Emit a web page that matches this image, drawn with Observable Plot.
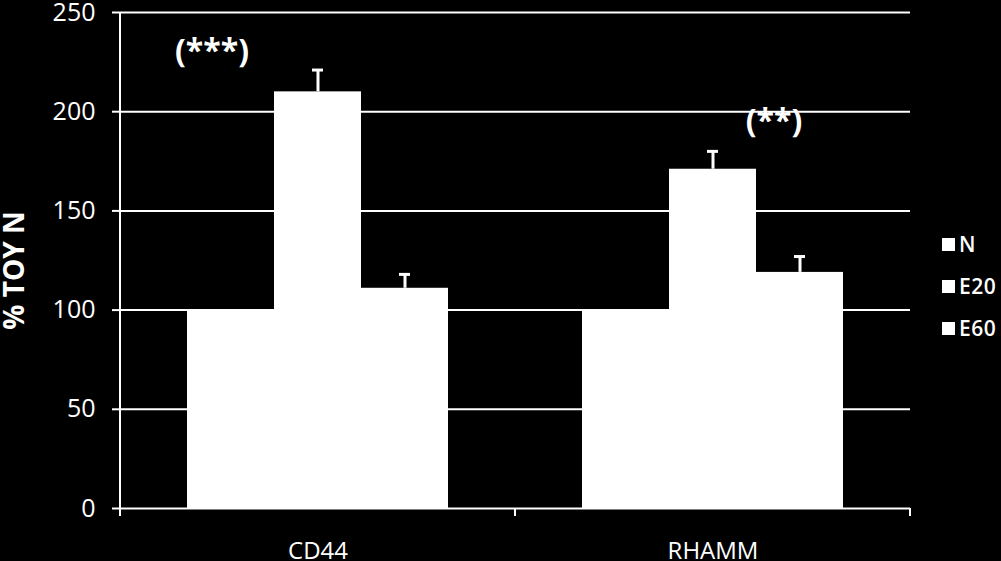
<!DOCTYPE html>
<html><head><meta charset="utf-8">
<script src="https://cdn.jsdelivr.net/npm/d3@7"></script>
<script src="https://cdn.jsdelivr.net/npm/@observablehq/plot@0.6"></script>
<style>
html,body{margin:0;padding:0;background:#000;}
#wrap{position:relative;width:1001px;height:561px;background:#000;overflow:hidden;}
#legend{position:absolute;left:942px;top:223px;font-family:"Open Sans",sans-serif;font-size:21px;font-weight:600;color:#fff;letter-spacing:0.5px;}
#legend .item{display:flex;align-items:center;height:42px;}
#legend .sw{width:13px;height:13px;background:#fff;margin-right:4px;flex:none;}
</style></head>
<body><div id="wrap"></div>
<script>
const groups = ["CD44", "RHAMM"];
const series = ["N", "E20", "E60"];
const cd44Values = [100, 210, 111];
const cd44Errors = [0, 11, 7];
const rhammValues = [100, 171, 119];
const rhammErrors = [0, 9, 8];
const yTicks = [0, 50, 100, 150, 200, 250];
const yTitle = "% TOY N";
const sigLabels = ["(***)", "(**)"];
const sigGroups = ["CD44", "RHAMM"];
const sigSeries = ["N", "E60"];
const sigLevels = [230, 195];

const valuesByGroup = {CD44: cd44Values, RHAMM: rhammValues};
const errorsByGroup = {CD44: cd44Errors, RHAMM: rhammErrors};
const data = [];
for (const g of groups) series.forEach((s, i) => data.push({group: g, series: s, value: valuesByGroup[g][i], error: errorsByGroup[g][i]}));
const errData = data.filter(d => d.error > 0);
const sig = sigLabels.map((t, i) => ({label: t, group: sigGroups[i], series: sigSeries[i], level: sigLevels[i]}));
const FONT = "'Open Sans', sans-serif";

const plot = Plot.plot({
  width: 1001, height: 561,
  marginLeft: 120, marginRight: 91, marginTop: 12, marginBottom: 53,
  style: {background: "black", color: "white", fontFamily: FONT},
  fx: {domain: groups, padding: 0, axis: null, label: null},
  x: {domain: series, paddingInner: 0, paddingOuter: 0.757, axis: null},
  y: {domain: [0, 250], axis: null},
  marks: [
    Plot.gridY(yTicks.slice(1), {stroke: "white", strokeOpacity: 1, strokeWidth: 2}),
    Plot.barY(data, {fx: "group", x: "series", y: "value", fill: "white"}),
    Plot.ruleX(errData, {fx: "group", x: "series", y1: "value", y2: d => d.value + d.error, stroke: "white", strokeWidth: 3}),
    Plot.tickY(errData, {fx: "group", x: "series", y: d => d.value + d.error, stroke: "white", strokeWidth: 3, insetLeft: 38, insetRight: 38}),
    Plot.ruleY([0], {stroke: "white", strokeWidth: 2}),
    Plot.axisY(yTicks, {anchor: "left", tickSize: 8, tickPadding: 17, color: "white", strokeWidth: 2, fontSize: 25, fontFamily: FONT, label: null}),
    Plot.axisFx({anchor: "bottom", tickSize: 0, tickPadding: 33, color: "white", fontSize: 24, fontFamily: FONT, label: null}),
    Plot.text([{group: groups[0], title: yTitle}], {fx: "group", text: "title", frameAnchor: "left", textAnchor: "middle", rotate: -90, dx: -105, dy: 10, fill: "white", fontSize: 28, fontWeight: "bold", fontFamily: FONT}),
    Plot.text([sig[0]], {fx: "group", x: "series", y: "level", text: "label", dx: -19, fill: "white", fontSize: 32, fontWeight: "bold", fontFamily: FONT}),
    Plot.text([sig[1]], {fx: "group", x: "series", y: "level", text: "label", dx: -26, fill: "white", fontSize: 32, fontWeight: "bold", fontFamily: FONT})
  ]
});

// axis line and group boundary ticks, from the plot's own scales
const fxs = plot.scale("fx"), ys = plot.scale("y");
const g = d3.select(plot).append("g").attr("stroke", "white").attr("stroke-width", 2);
const x0 = fxs.apply(groups[0]);
g.append("line").attr("x1", x0).attr("x2", x0).attr("y1", ys.apply(250)).attr("y2", ys.apply(0) + 8);
const edges = groups.map(k => fxs.apply(k)).concat([fxs.apply(groups[groups.length - 1]) + fxs.bandwidth]);
for (const e of edges) g.append("line").attr("x1", e).attr("x2", e).attr("y1", ys.apply(0)).attr("y2", ys.apply(0) + 8);

const wrap = document.getElementById("wrap");
wrap.appendChild(plot);
const legend = document.createElement("div");
legend.id = "legend";
for (const s of series) {
  const item = document.createElement("div"); item.className = "item";
  const sw = document.createElement("span"); sw.className = "sw";
  const lab = document.createElement("span"); lab.textContent = s;
  item.appendChild(sw); item.appendChild(lab); legend.appendChild(item);
}
wrap.appendChild(legend);
</script>
</body></html>
